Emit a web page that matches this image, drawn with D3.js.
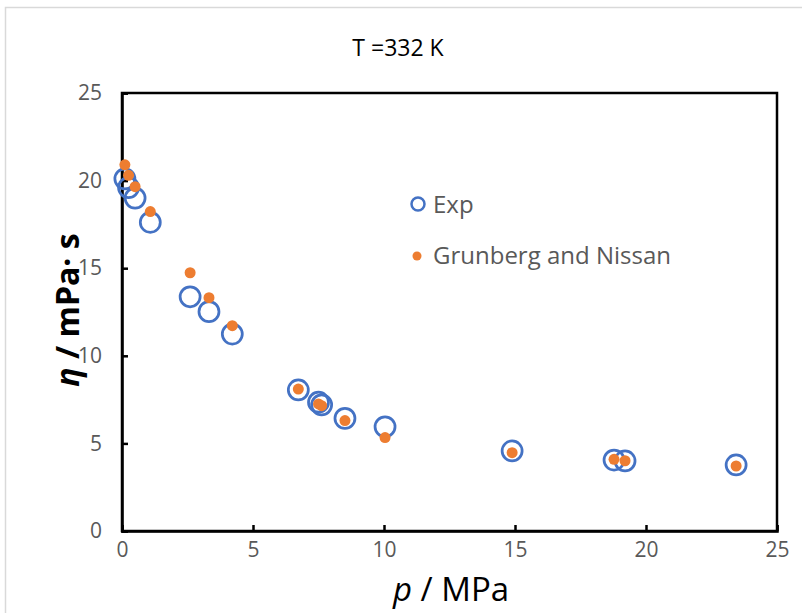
<!DOCTYPE html>
<html><head><meta charset="utf-8">
<script src="https://cdn.jsdelivr.net/npm/d3@7"></script>
<style>
body{margin:0;background:#fff;}
text{font-family:"Open Sans",sans-serif;}
</style></head>
<body><svg id="c" width="802" height="613"></svg>
<script>
const pressure = [0.11, 0.25, 0.5, 1.08, 2.6, 3.32, 4.21, 6.73, 7.5, 7.62, 8.51, 10.04, 14.89, 18.78, 19.2, 23.44];
const expVals  = [20.1, 19.6, 19.0, 17.62, 13.37, 12.52, 11.24, 8.05, 7.35, 7.2, 6.43, 5.95, 4.57, 4.05, 4.0, 3.77];
const gnVals   = [20.9, 20.3, 19.65, 18.23, 14.74, 13.32, 11.72, 8.1, 7.25, 7.15, 6.3, 5.33, 4.47, 4.09, 4.01, 3.71];
const xTicks = [0, 5, 10, 15, 20, 25];
const yTicks = [0, 5, 10, 15, 20, 25];
const seriesNames = ["Exp", "Grunberg and Nissan"];

const svg = d3.select("#c");
const L = 122, R = 777, T = 93, B = 531;
const x = d3.scaleLinear().domain([0, 25]).range([L, R]);
const y = d3.scaleLinear().domain([0, 25]).range([B, T]);
const blue = "#4472C4", orange = "#ED7D31", gray = "#595959";

svg.append("rect").attr("x", 5.5).attr("y", 7.5).attr("width", 820).attr("height", 640)
  .attr("fill", "none").attr("stroke", "#d9d9d9").attr("stroke-width", 1.5);

// plot box
svg.append("rect").attr("x", L).attr("y", T).attr("width", R - L).attr("height", B - T)
  .attr("fill", "none").attr("stroke", "#000").attr("stroke-width", 2.5);

const xa = svg.append("g").attr("transform", `translate(0,${B})`)
  .call(d3.axisBottom(x).tickValues(xTicks).tickSize(-6).tickPadding(11).tickFormat(d3.format("d")));
const ya = svg.append("g").attr("transform", `translate(${L},0)`)
  .call(d3.axisLeft(y).tickValues(yTicks).tickSize(-6).tickPadding(20).tickFormat(d3.format("d")));
[xa, ya].forEach(a => {
  a.select(".domain").attr("stroke", "#000").attr("stroke-width", 2.5);
  a.selectAll(".tick line").attr("stroke", "#000").attr("stroke-width", 2.5);
  a.selectAll(".tick text").attr("fill", gray).style("font-size", "21px");
});
xa.selectAll(".tick text").attr("dy", "0.7em");

// title
svg.append("text").attr("x", 398).attr("y", 56).attr("text-anchor", "middle")
  .style("font-size", "23px").attr("fill", "#000").text("T =332 K");

// axis labels
const xl = svg.append("text").attr("x", 451).attr("y", 601).attr("text-anchor", "middle")
  .style("font-size", "33px").attr("fill", "#000");
xl.append("tspan").style("font-style", "italic").text("p");
xl.append("tspan").text(" / MPa");

const yl = svg.append("text").attr("transform", "translate(79,310) rotate(-90)")
  .attr("text-anchor", "middle").style("font-size", "32px").style("font-weight", "bold").attr("fill", "#000");
yl.append("tspan").style("font-style", "italic").text("η");
yl.append("tspan").text(" / mPa· s");

// data
const data = pressure.map((p, i) => ({p, e: expVals[i], g: gnVals[i]}));
svg.append("g").selectAll("circle").data(data).join("circle")
  .attr("cx", d => x(d.p)).attr("cy", d => y(d.e)).attr("r", 10)
  .attr("fill", "none").attr("stroke", blue).attr("stroke-width", 2.75);
svg.append("g").selectAll("circle").data(data).join("circle")
  .attr("cx", d => x(d.p)).attr("cy", d => y(d.g)).attr("r", 5.5)
  .attr("fill", orange);

// legend
const lg = svg.append("g");
lg.append("circle").attr("cx", 418).attr("cy", 204).attr("r", 6.5)
  .attr("fill", "none").attr("stroke", blue).attr("stroke-width", 2.5);
lg.append("text").attr("x", 433).attr("y", 213).style("font-size", "24px").attr("fill", gray).text(seriesNames[0]);
lg.append("circle").attr("cx", 417).attr("cy", 256).attr("r", 4.5).attr("fill", orange);
lg.append("text").attr("x", 433).attr("y", 264).style("font-size", "24px").attr("fill", gray).text(seriesNames[1]);
</script></body></html>
